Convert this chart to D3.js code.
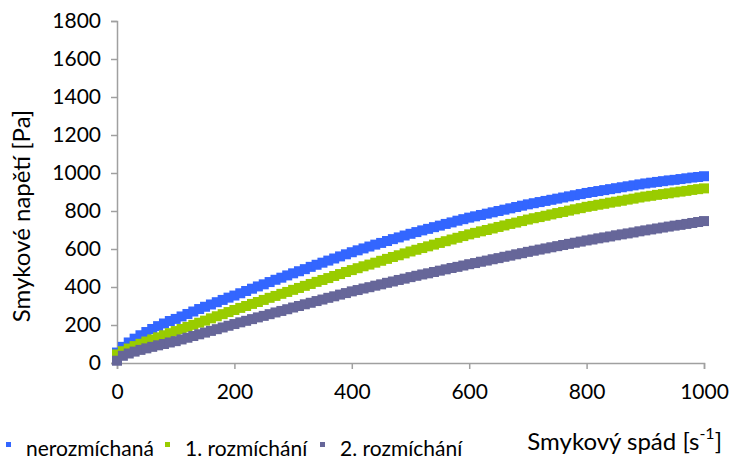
<!DOCTYPE html>
<html>
<head>
<meta charset="utf-8">
<script src="https://cdnjs.cloudflare.com/ajax/libs/d3/7.8.5/d3.min.js"></script>
<style>
  html, body { margin: 0; padding: 0; background: #fff; }
  svg { display: block; }
  text { font-family: Lato, "Open Sans", sans-serif; fill: #000; }
</style>
</head>
<body>
<svg id="chart" width="729" height="465"></svg>
<script>
// Shear rate [1/s] at which each stress reading was taken
const shearRate = [
  0, 10, 20, 30, 40, 50, 60, 70, 80, 90,
  100, 110, 120, 130, 140, 150, 160, 170, 180, 190,
  200, 210, 220, 230, 240, 250, 260, 270, 280, 290,
  300, 310, 320, 330, 340, 350, 360, 370, 380, 390,
  400, 410, 420, 430, 440, 450, 460, 470, 480, 490,
  500, 510, 520, 530, 540, 550, 560, 570, 580, 590,
  600, 610, 620, 630, 640, 650, 660, 670, 680, 690,
  700, 710, 720, 730, 740, 750, 760, 770, 780, 790,
  800, 810, 820, 830, 840, 850, 860, 870, 880, 890,
  900, 910, 920, 930, 940, 950, 960, 970, 980, 990,
  1000
];

// Shear stress [Pa] – unmixed sample
const nerozmichana = [
  55, 85, 108, 128, 146, 163, 179, 194, 208, 221,
  232, 245, 258, 271, 284, 296, 308, 320, 332, 344,
  355, 367, 379, 391, 403, 414, 426, 438, 449, 461,
  472, 483, 494, 506, 517, 528, 539, 550, 561, 572,
  583, 593, 603, 613, 623, 632, 642, 652, 661, 671,
  680, 689, 698, 706, 715, 723, 732, 740, 749, 757,
  765, 772, 779, 786, 793, 800, 807, 814, 821, 828,
  835, 841, 847, 853, 859, 865, 871, 877, 883, 889,
  895, 900, 905, 910, 915, 920, 925, 930, 935, 940,
  945, 949, 953, 957, 961, 964, 968, 972, 976, 979,
  983
];

// Shear stress [Pa] – after first mixing
const rozmichani1 = [
  45, 62, 76, 89, 101, 113, 124, 135, 146, 157,
  168, 179, 190, 201, 212, 223, 235, 246, 257, 268,
  279, 290, 300, 311, 321, 332, 343, 353, 364, 374,
  385, 395, 406, 416, 427, 437, 447, 458, 468, 479,
  489, 499, 509, 518, 528, 538, 548, 558, 567, 577,
  587, 596, 605, 614, 623, 632, 641, 650, 659, 668,
  677, 685, 693, 700, 708, 716, 724, 732, 739, 747,
  755, 762, 768, 775, 782, 789, 795, 802, 809, 815,
  822, 827, 833, 838, 844, 849, 854, 860, 865, 871,
  876, 880, 885, 889, 893, 898, 902, 906, 911, 915,
  919
];

// Shear stress [Pa] – after second mixing
const rozmichani2 = [
  12, 38, 50, 60, 69, 77, 85, 93, 100, 108,
  115, 124, 133, 142, 151, 160, 169, 178, 187, 196,
  205, 214, 222, 231, 240, 248, 257, 266, 274, 283,
  292, 300, 309, 317, 326, 334, 343, 351, 360, 368,
  377, 384, 392, 399, 407, 414, 422, 429, 437, 444,
  452, 459, 466, 472, 479, 486, 493, 500, 506, 513,
  520, 526, 533, 539, 546, 552, 559, 565, 572, 578,
  585, 591, 597, 603, 609, 615, 621, 627, 633, 639,
  645, 650, 656, 661, 666, 672, 677, 682, 687, 693,
  698, 703, 708, 713, 718, 723, 727, 732, 737, 742,
  747
];

const seriesNames = ["nerozmíchaná", "1. rozmíchání", "2. rozmíchání"];
const seriesColors = ["#3366FF", "#99CC00", "#666699"];
const seriesValues = [nerozmichana, rozmichani1, rozmichani2];

const xTicks = [0, 200, 400, 600, 800, 1000];
const yTicks = [0, 200, 400, 600, 800, 1000, 1200, 1400, 1600, 1800];

const svg = d3.select("#chart");
const plot = { left: 117, right: 704, top: 21, bottom: 363 };

const x = d3.scaleLinear().domain([0, 1000]).range([plot.left, plot.right]);
const y = d3.scaleLinear().domain([0, 1800]).range([plot.bottom, plot.top]);

const axisColor = "#A0A0A0";
const tickFont = 21;

// Y axis
const yAxis = svg.append("g")
  .attr("transform", `translate(${plot.left},0)`)
  .call(d3.axisLeft(y).tickValues(yTicks).tickSize(6).tickPadding(10).tickFormat(d3.format("d")));
yAxis.select(".domain").attr("stroke", axisColor).attr("stroke-width", 1.5);
yAxis.selectAll(".tick line").attr("stroke", axisColor).attr("stroke-width", 1.5);
yAxis.selectAll(".tick text")
  .attr("font-family", "Lato, sans-serif").attr("font-size", tickFont).attr("fill", "#000");

// X axis
const xAxis = svg.append("g")
  .attr("transform", `translate(0,${plot.bottom})`)
  .call(d3.axisBottom(x).tickValues(xTicks).tickSize(6).tickPadding(15).tickFormat(d3.format("d")));
xAxis.select(".domain").attr("stroke", axisColor).attr("stroke-width", 1.5);
xAxis.selectAll(".tick line").attr("stroke", axisColor).attr("stroke-width", 1.5);
xAxis.selectAll(".tick text")
  .attr("font-family", "Lato, sans-serif").attr("font-size", tickFont).attr("fill", "#000");

// Data markers: dense squares for each series, later series drawn on top
const m = 10;
seriesValues.forEach((vals, i) => {
  svg.append("g")
    .selectAll("rect")
    .data(shearRate.map((r, k) => [r, vals[k]]))
    .join("rect")
    .attr("x", d => x(d[0]) - m / 2)
    .attr("y", d => y(d[1]) - m / 2)
    .attr("width", m)
    .attr("height", m)
    .attr("fill", seriesColors[i]);
});

// Y axis title
svg.append("text")
  .attr("transform", "translate(30,216) rotate(-90)")
  .attr("text-anchor", "middle")
  .attr("font-size", 24)
  .text("Smykové napětí [Pa]");

// X axis title with superscript unit
const xt = svg.append("text")
  .attr("x", 722)
  .attr("y", 450)
  .attr("text-anchor", "end")
  .attr("font-size", 24);
xt.append("tspan").text("Smykový spád [s");
xt.append("tspan").attr("dy", -11).attr("font-size", 16).text("-1");
xt.append("tspan").attr("dy", 11).text("]");

// Legend
const legendX = [6, 165, 320];
const legend = svg.append("g");
seriesNames.forEach((name, i) => {
  legend.append("rect")
    .attr("x", legendX[i]).attr("y", 442)
    .attr("width", 5).attr("height", 5)
    .attr("fill", seriesColors[i]);
  legend.append("text")
    .attr("x", legendX[i] + 20).attr("y", 456)
    .attr("font-size", 21)
    .text(name);
});
</script>
</body>
</html>
